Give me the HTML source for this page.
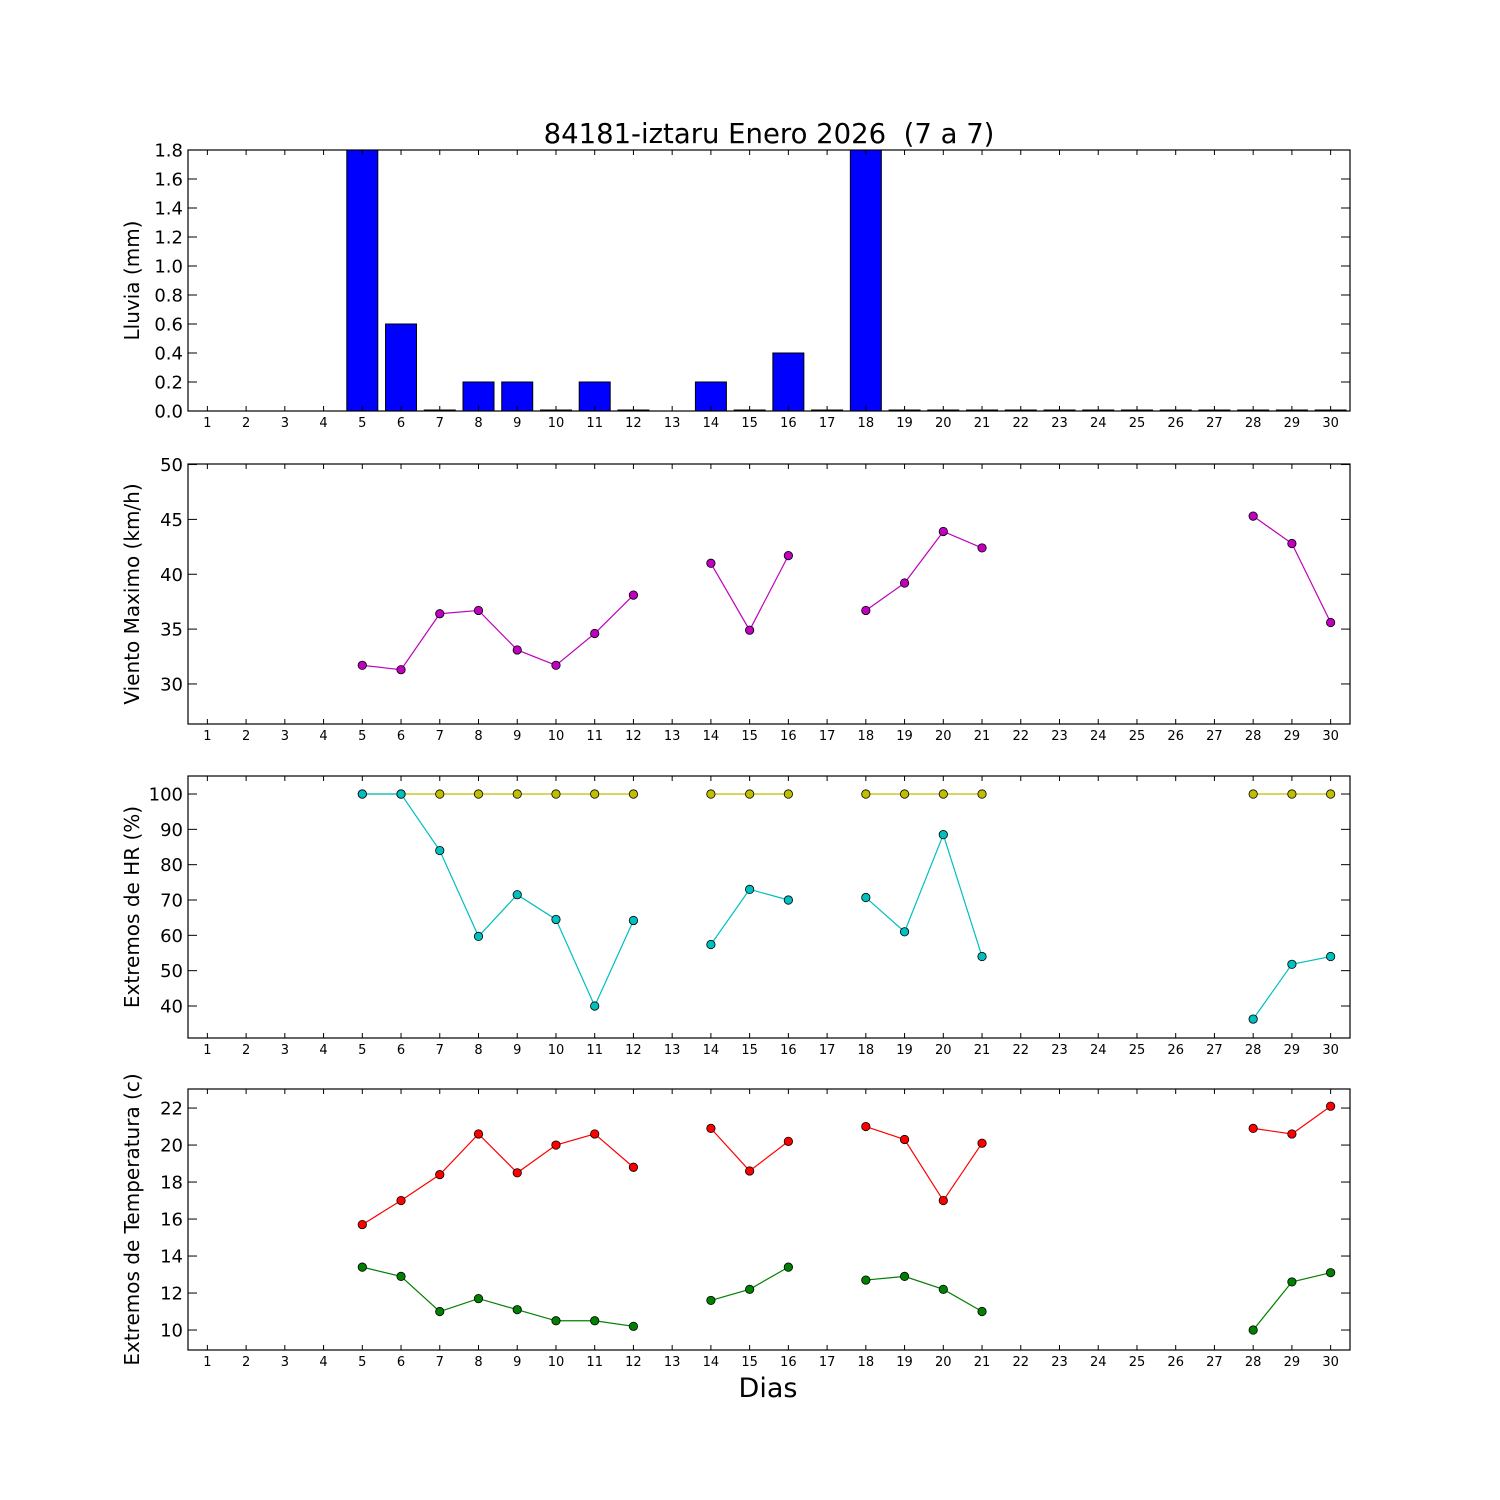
<!DOCTYPE html>
<html><head><meta charset="utf-8">
<style>
html,body{margin:0;padding:0;background:#fff;}
svg{display:block;font-family:"DejaVu Sans","Liberation Sans",sans-serif;}
text{white-space:pre;}
</style></head>
<body>
<svg id="chart" width="1500" height="1500" viewBox="0 0 1500 1500" xmlns="http://www.w3.org/2000/svg" xml:space="preserve">
<rect width="1500" height="1500" fill="#fff"/>
<text x="769" y="143" font-size="27.5" text-anchor="middle">84181-iztaru Enero 2026  (7 a 7)</text>
<text x="768" y="1397" font-size="27" text-anchor="middle">Dias</text>
</svg>
<script>
const days = Array.from({length:30},(_,i)=>i+1);
const rain = [null,null,null,null,1.9,0.6,0,0.2,0.2,0,0.2,0,null,0.2,0,0.4,0,1.9,0,0,0,0,0,0,0,0,0,0,0,0];
const windMax = [null,null,null,null,31.7,31.3,36.4,36.7,33.1,31.7,34.6,38.1,null,41.0,34.9,41.7,null,36.7,39.2,43.9,42.4,null,null,null,null,null,null,45.3,42.8,35.6];
const hrMax = [null,null,null,null,100,100,100,100,100,100,100,100,null,100,100,100,null,100,100,100,100,null,null,null,null,null,null,100,100,100];
const hrMin = [null,null,null,null,100,100,84,59.7,71.5,64.5,40,64.2,null,57.4,73,70,null,70.7,61,88.5,54,null,null,null,null,null,null,36.3,51.8,54];
const tMax = [null,null,null,null,15.7,17,18.4,20.6,18.5,20,20.6,18.8,null,20.9,18.6,20.2,null,21,20.3,17,20.1,null,null,null,null,null,null,20.9,20.6,22.1];
const tMin = [null,null,null,null,13.4,12.9,11,11.7,11.1,10.5,10.5,10.2,null,11.6,12.2,13.4,null,12.7,12.9,12.2,11,null,null,null,null,null,null,10,12.6,13.1];
const rainTicks = [0,0.2,0.4,0.6,0.8,1.0,1.2,1.4,1.6,1.8];
const windTicks = [30,35,40,45,50];
const hrTicks = [40,50,60,70,80,90,100];
const tTicks = [10,12,14,16,18,20,22];

const NS="http://www.w3.org/2000/svg";
const svg=document.getElementById('chart');
const L=188,R=1350;
function x(d){return L+(d-0.5)*(R-L)/30;}
function mk(tag,attrs,parent){const e=document.createElementNS(NS,tag);for(const k in attrs)e.setAttribute(k,attrs[k]);(parent||svg).appendChild(e);return e;}

const panels=[
 {name:'rain',top:150,bot:411,ymin:0,ymax:1.8,ticks:rainTicks,label:'Lluvia (mm)',fmt:v=>v.toFixed(1)},
 {name:'wind',top:464,bot:724,ymin:26.35,ymax:50.05,ticks:windTicks,label:'Viento Maximo (km/h)',fmt:v=>String(v)},
 {name:'humidity',top:776,bot:1038,ymin:30.94,ymax:105.1,ticks:hrTicks,label:'Extremos de HR (%)',fmt:v=>String(v)},
 {name:'temperature',top:1089,bot:1350,ymin:8.92,ymax:23.03,ticks:tTicks,label:'Extremos de Temperatura (c)',fmt:v=>String(v)}
];
panels.forEach(p=>{p.y=v=>p.bot-(v-p.ymin)/(p.ymax-p.ymin)*(p.bot-p.top);});

function drawLine(p,vals,color,name){
  const g=mk('g',{});
  
  
  let seg=[];
  const segs=[];
  vals.forEach((v,i)=>{if(v===null){if(seg.length)segs.push(seg);seg=[];}else seg.push([x(days[i]),p.y(v)]);});
  if(seg.length)segs.push(seg);
  segs.forEach(s=>{const pl=mk('polyline',{points:s.map(q=>q.join(',')).join(' '),fill:'none',stroke:color,'stroke-width':1.2},g);
    });
  vals.forEach((v,i)=>{if(v===null)return;const c=mk('circle',{cx:x(days[i]),cy:p.y(v),r:4.2,fill:color,stroke:'#000','stroke-width':0.8},g);
    });
}

panels.forEach((p,pi)=>{
  const g=mk('g',{});
  
  
  const clipId='clip'+pi;
  const cp=mk('clipPath',{id:clipId},g);mk('rect',{x:L,y:p.top,width:R-L,height:p.bot-p.top},cp);
  const plot=mk('g',{'clip-path':'url(#'+clipId+')'},g);
  if(pi===0){
    rain.forEach((v,i)=>{if(v===null)return;const w=0.8*(R-L)/30;const y0=p.y(0),y1=p.y(v);
      const b=mk('rect',{x:x(days[i])-w/2,y:Math.min(y1,y0-1),width:w,height:Math.max(y0-y1,1),fill:'#0000ff',stroke:'#000','stroke-width':1},plot);
      });
  }
  const fr=mk('rect',{x:L,y:p.top,width:R-L,height:p.bot-p.top,fill:'none',stroke:'#000','stroke-width':1.2},g);
  
  days.forEach(d=>{const xx=x(d);
    mk('line',{x1:xx,x2:xx,y1:p.bot,y2:p.bot-5,stroke:'#000'},g);
    mk('line',{x1:xx,x2:xx,y1:p.top,y2:p.top+5,stroke:'#000'},g);
    const t=mk('text',{x:xx,y:p.bot+16,'font-size':13,'text-anchor':'middle'},g);t.textContent=d;
    });
  p.ticks.forEach(v=>{const yy=p.y(v);
    mk('line',{x1:L,x2:L+9,y1:yy,y2:yy,stroke:'#000'},g);
    mk('line',{x1:R,x2:R-9,y1:yy,y2:yy,stroke:'#000'},g);
    const t=mk('text',{x:L-5,y:yy+6.5,'font-size':18,'text-anchor':'end'},g);t.textContent=p.fmt(v);
    });
  const cy=(p.top+p.bot)/2;
  const yl=mk('text',{x:0,y:0,'font-size':20,'text-anchor':'middle',transform:'translate(139,'+cy+') rotate(-90)'},g);
  yl.textContent=p.label;
});
drawLine(panels[1],windMax,'#bf00bf','wind-max');
drawLine(panels[2],hrMax,'#bfbf00','humidity-max');
drawLine(panels[2],hrMin,'#00bfbf','humidity-min');
drawLine(panels[3],tMax,'#ff0000','temperature-max');
drawLine(panels[3],tMin,'#008000','temperature-min');
</script>
</body></html>
